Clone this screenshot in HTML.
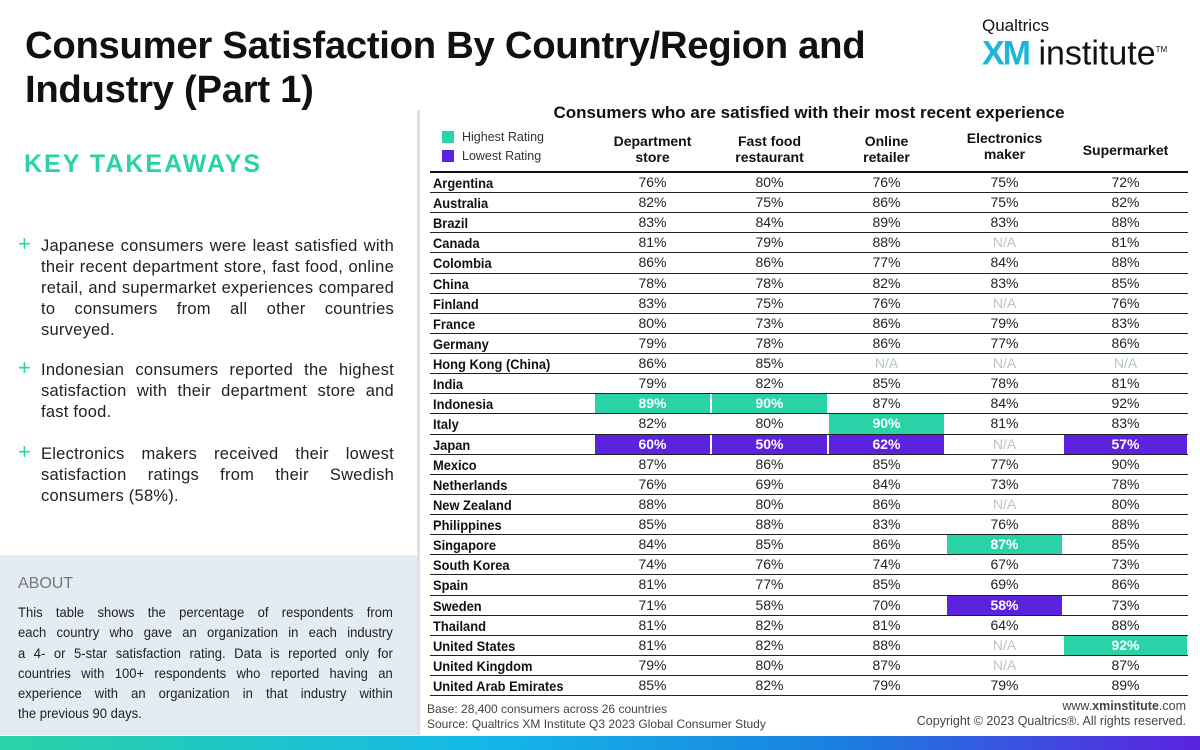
<!DOCTYPE html>
<html><head><meta charset="utf-8">
<style>
body{margin:0;width:1200px;height:750px;position:relative;overflow:hidden;background:#fff;font-family:"Liberation Sans",sans-serif;color:#111}
.abs{position:absolute}
.tk{position:absolute;left:18px;width:376px;padding-left:23px;box-sizing:border-box;font-size:16.5px;line-height:21px;color:#222;text-align:justify;letter-spacing:0.25px}
.tk span{position:absolute;left:0;top:-3px;color:#2ad3a7;font-size:22px}
.ab div{white-space:nowrap;text-align:justify;text-align-last:justify}
.ab div.last{text-align-last:left}
</style></head><body>
<div class="abs" style="left:25px;top:24px;font-size:38.3px;font-weight:bold;line-height:44px;width:900px;letter-spacing:-0.3px">Consumer Satisfaction By Country/Region and<br>Industry (Part 1)</div>
<div class="abs" style="left:982px;top:16px;width:210px">
 <div style="font-size:17px;color:#111">Qualtrics</div>
 <div style="font-size:34px;line-height:32px;margin-top:-2px"><b style="color:#1fb5d8;letter-spacing:-2px">XM</b> <span style="color:#111">institute</span><sup style="font-size:8px">TM</sup></div>
</div>
<div class="abs" style="left:24px;top:150px;font-size:25px;font-weight:bold;color:#2ad3a7;letter-spacing:2px">KEY TAKEAWAYS</div>
<div class="tk" style="top:236px"><span>+</span>Japanese consumers were least satisfied with their recent department store, fast food, online retail, and supermarket experiences compared to consumers from all other countries surveyed.</div>
<div class="tk" style="top:360px"><span>+</span>Indonesian consumers reported the highest satisfaction with their department store and fast food.</div>
<div class="tk" style="top:444px"><span>+</span>Electronics makers received their lowest satisfaction ratings from their Swedish consumers (58%).</div>
<div class="abs" style="left:0;top:555px;width:418px;height:180px;background:#e3ebf3"></div>
<div class="abs" style="left:18px;top:575px;font-size:16px;color:#777">ABOUT</div>
<div class="abs ab" style="left:18px;top:602px;width:403px;font-size:14px;line-height:20.3px;color:#222;transform:scaleX(0.93);transform-origin:0 0">
<div>This table shows the percentage of respondents from</div>
<div>each country who gave an organization in each industry</div>
<div>a 4- or 5-star satisfaction rating. Data is reported only for</div>
<div>countries with 100+ respondents who reported having an</div>
<div>experience with an organization in that industry within</div>
<div class="last">the previous 90 days.</div>
</div>
<div class="abs" style="left:417px;top:110px;width:3px;height:625px;background:#dde3e8"></div>
<div class="abs" style="left:420px;top:103px;width:778px;text-align:center;font-size:17px;font-weight:bold">Consumers who are satisfied with their most recent experience</div>
<div class="abs" style="left:442px;top:130px;font-size:12.5px;color:#333"><span style="display:inline-block;width:12px;height:12px;background:#2ad3a7;vertical-align:-2px;margin-right:8px"></span>Highest Rating</div>
<div class="abs" style="left:442px;top:149px;font-size:12.5px;color:#333"><span style="display:inline-block;width:12px;height:12px;background:#5b22e0;vertical-align:-2px;margin-right:8px"></span>Lowest Rating</div>
<div id="tbl"></div>
<div class="abs" style="left:427px;top:702px;font-size:12px;line-height:15px;color:#444">Base: 28,400 consumers across 26 countries<br>Source: Qualtrics XM Institute Q3 2023 Global Consumer Study</div>
<div class="abs" style="right:14px;top:699px;font-size:12.5px;line-height:15px;color:#444;text-align:right">www.<b>xminstitute</b>.com<br>Copyright © 2023 Qualtrics®. All rights reserved.</div>
<div class="abs" style="left:0;top:736px;width:1200px;height:14px;background:linear-gradient(90deg,#2ad3a7,#14b8e8 40%,#1a7fe0 70%,#5b22e0)"></div>
<script>
const columns=["Department<br>store","Fast food<br>restaurant","Online<br>retailer","Electronics<br>maker","Supermarket"];
const countries=["Argentina","Australia","Brazil","Canada","Colombia","China","Finland","France","Germany","Hong Kong (China)","India","Indonesia","Italy","Japan","Mexico","Netherlands","New Zealand","Philippines","Singapore","South Korea","Spain","Sweden","Thailand","United States","United Kingdom","United Arab Emirates"];
const deptStore=[76,82,83,81,86,78,83,80,79,86,79,89,82,60,87,76,88,85,84,74,81,71,81,81,79,85];
const fastFood=[80,75,84,79,86,78,75,73,78,85,82,90,80,50,86,69,80,88,85,76,77,58,82,82,80,82];
const online=[76,86,89,88,77,82,76,86,86,null,85,87,90,62,85,84,86,83,86,74,85,70,81,88,87,79];
const electronics=[75,75,83,null,84,83,null,79,77,null,78,84,81,null,77,73,null,76,87,67,69,58,64,null,null,79];
const supermarket=[72,82,88,81,88,85,76,83,86,null,81,92,83,57,90,78,80,88,85,73,86,73,88,92,87,89];
const highCells=[[11,0],[11,1],[12,2],[18,3],[23,4]];
const lowCells=[[13,0],[13,1],[13,2],[21,3],[13,4]];
const series=[deptStore,fastFood,online,electronics,supermarket];
const colX=[595,712,829,947,1064], colW=[115,115,115,115,123], rowTop=173, rowH=20.12;
const tbl=document.getElementById('tbl');
function mk(html,css){const d=document.createElement('div');d.className='abs';d.style.cssText=css;d.innerHTML=html;tbl.appendChild(d);return d;}
columns.forEach((c,j)=>{
 const h=mk(c,`left:${colX[j]}px;top:${j==4?142:(j==3?130:133)}px;width:${colW[j]}px;text-align:center;font-size:14px;font-weight:bold;line-height:16px`);
 
 
});
const headRule=mk('',`left:430px;top:${rowTop-2}px;width:758px;height:2px;background:#111`);


countries.forEach((name,i)=>{
 const y=rowTop+i*rowH;
 const lab=mk(name,`left:433px;top:${y+2}px;font-size:14px;font-weight:bold;transform:scaleX(0.92);transform-origin:0 0;white-space:nowrap`);
 
 
 series.forEach((s,j)=>{
  const v=s[i];
  const hi=highCells.some(a=>a[0]==i&&a[1]==j), lo=lowCells.some(a=>a[0]==i&&a[1]==j);
  const bg=hi?'#2ad3a7':lo?'#5b22e0':'transparent';
  const col=(hi||lo)?'#fff':(v==null?'#b8c4cc':'#222');
  const c=mk(v==null?'N/A':v+'%',`left:${colX[j]}px;top:${y}px;width:${colW[j]}px;height:${rowH-1}px;line-height:${rowH-1}px;text-align:center;font-size:14px;background:${bg};color:${col};${(hi||lo)?'font-weight:bold;':''}`);
  
  
 });
 const ln=mk('',`left:430px;top:${y+rowH-1}px;width:758px;height:1px;background:#222`);
 
 
});
</script>
</body></html>
